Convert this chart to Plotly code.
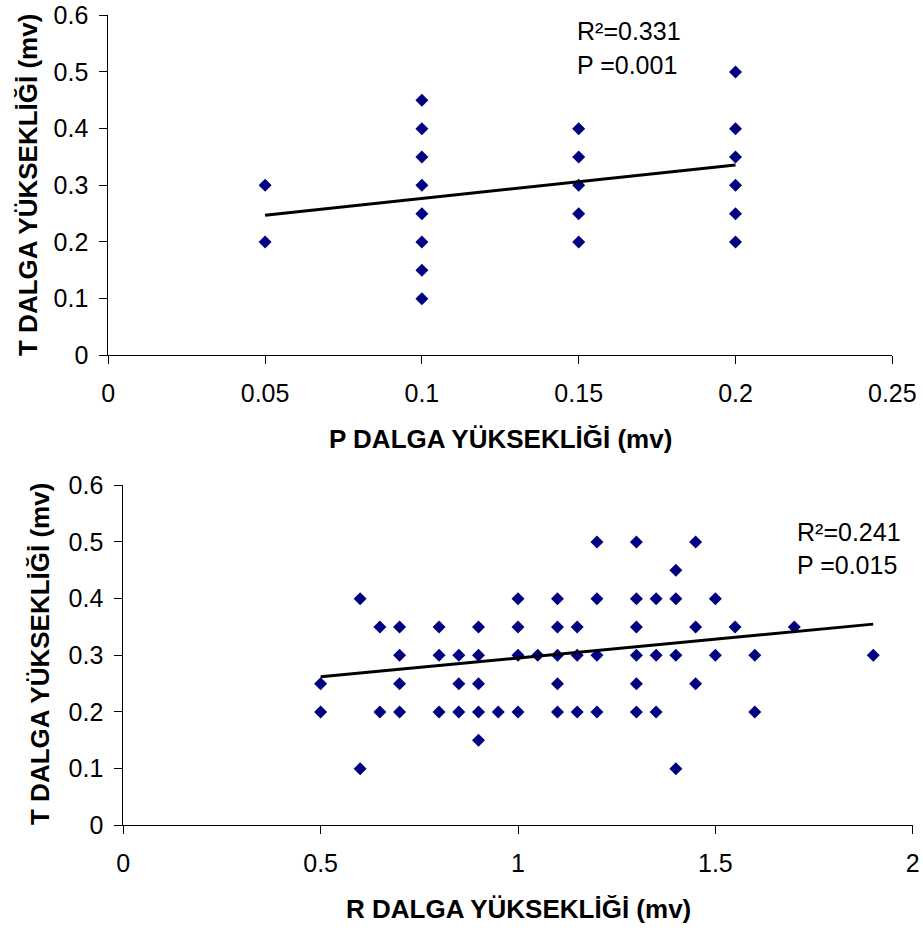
import plotly.graph_objects as go

W, H = 923, 931
FONT = "Liberation Sans, Arial, sans-serif"
NAVY = "#000080"

# --- P wave height vs T wave height ---
p_height = [0.05, 0.05,
            0.1, 0.1, 0.1, 0.1, 0.1, 0.1, 0.1, 0.1,
            0.15, 0.15, 0.15, 0.15, 0.15,
            0.2, 0.2, 0.2, 0.2, 0.2, 0.2]
t_height_p = [0.3, 0.2,
              0.45, 0.4, 0.35, 0.3, 0.25, 0.2, 0.15, 0.1,
              0.4, 0.35, 0.3, 0.25, 0.2,
              0.5, 0.4, 0.35, 0.3, 0.25, 0.2]
p_trend_x = [0.05, 0.2]
p_trend_y = [0.247, 0.336]
p_stats = ["R²=0.331", "P =0.001"]

# --- R wave height vs T wave height ---
r_height = [0.5, 0.5,
            0.6, 0.6,
            0.65, 0.65,
            0.7, 0.7, 0.7, 0.7,
            0.8, 0.8, 0.8,
            0.85, 0.85, 0.85,
            0.9, 0.9, 0.9, 0.9, 0.9,
            0.95,
            1.0, 1.0, 1.0, 1.0,
            1.05,
            1.1, 1.1, 1.1, 1.1, 1.1,
            1.15, 1.15, 1.15,
            1.2, 1.2, 1.2, 1.2,
            1.3, 1.3, 1.3, 1.3, 1.3, 1.3,
            1.35, 1.35, 1.35,
            1.4, 1.4, 1.4, 1.4,
            1.45, 1.45, 1.45,
            1.5, 1.5,
            1.55,
            1.6, 1.6,
            1.7,
            1.9]
t_height_r = [0.25, 0.2,
              0.4, 0.1,
              0.35, 0.2,
              0.35, 0.3, 0.25, 0.2,
              0.35, 0.3, 0.2,
              0.3, 0.25, 0.2,
              0.35, 0.3, 0.25, 0.2, 0.15,
              0.2,
              0.4, 0.35, 0.3, 0.2,
              0.3,
              0.4, 0.35, 0.3, 0.25, 0.2,
              0.35, 0.3, 0.2,
              0.5, 0.4, 0.3, 0.2,
              0.5, 0.4, 0.35, 0.3, 0.25, 0.2,
              0.4, 0.3, 0.2,
              0.45, 0.4, 0.3, 0.1,
              0.5, 0.35, 0.25,
              0.4, 0.3,
              0.35,
              0.3, 0.2,
              0.35,
              0.3]
r_trend_x = [0.5, 1.9]
r_trend_y = [0.262, 0.355]
r_stats = ["R²=0.241", "P =0.015"]

x_ticks_p = [0, 0.05, 0.1, 0.15, 0.2, 0.25]
x_ticks_r = [0, 0.5, 1, 1.5, 2]
y_ticks = [0, 0.1, 0.2, 0.3, 0.4, 0.5, 0.6]

x_title_p = "P DALGA YÜKSEKLİĞİ (mv)"
x_title_r = "R DALGA YÜKSEKLİĞİ (mv)"
y_title = "T DALGA YÜKSEKLİĞİ (mv)"

# plot-area placement in pixels: (left, right, top, bottom)
top_box = (108.3, 892.3, 15.3, 355.3)
bot_box = (123.3, 912.7, 485.3, 825.3)


def xdom(box):
    return [box[0] / W, box[1] / W]


def ydom(box):
    return [1 - box[3] / H, 1 - box[2] / H]


fig = go.Figure()

fig.add_trace(go.Scatter(x=p_height, y=t_height_p, mode="markers",
                         marker=dict(symbol="diamond", size=10, color=NAVY),
                         xaxis="x", yaxis="y", showlegend=False))
fig.add_trace(go.Scatter(x=p_trend_x, y=p_trend_y, mode="lines",
                         line=dict(color="black", width=3),
                         xaxis="x", yaxis="y", showlegend=False))
fig.add_trace(go.Scatter(x=r_height, y=t_height_r, mode="markers",
                         marker=dict(symbol="diamond", size=10, color=NAVY),
                         xaxis="x2", yaxis="y2", showlegend=False))
fig.add_trace(go.Scatter(x=r_trend_x, y=r_trend_y, mode="lines",
                         line=dict(color="black", width=3),
                         xaxis="x2", yaxis="y2", showlegend=False))

axis_common = dict(showgrid=False, zeroline=False, showline=True,
                   linecolor="black", linewidth=1, ticks="outside",
                   ticklen=8, tickcolor="black", tickwidth=1,
                   automargin=False,
                   tickfont=dict(family=FONT, size=25, color="black"))


def fmt(v):
    return ("%g" % v)


fig.update_layout(
    width=W, height=H,
    margin=dict(l=0, r=0, t=0, b=0),
    paper_bgcolor="white", plot_bgcolor="white",
    font=dict(family=FONT, color="black"),
    xaxis=dict(domain=xdom(top_box), range=[0, 0.25], anchor="y",
               tickvals=x_ticks_p, ticktext=[fmt(v) for v in x_ticks_p],
               ticklabelstandoff=8, **axis_common),
    yaxis=dict(domain=ydom(top_box), range=[0, 0.6], anchor="x",
               tickvals=y_ticks, ticktext=[fmt(v) for v in y_ticks],
               ticklabelstandoff=6, **axis_common),
    xaxis2=dict(domain=xdom(bot_box), range=[0, 2], anchor="y2",
                tickvals=x_ticks_r, ticktext=[fmt(v) for v in x_ticks_r],
                ticklabelstandoff=8, **axis_common),
    yaxis2=dict(domain=ydom(bot_box), range=[0, 0.6], anchor="x2",
                tickvals=y_ticks, ticktext=[fmt(v) for v in y_ticks],
                ticklabelstandoff=6, **axis_common),
)

ann = []
title_font = dict(family=FONT, size=26, color="black")
# axis titles
ann.append(dict(text="<b>%s</b>" % x_title_p, xref="paper", yref="paper",
                x=(top_box[0] + top_box[1]) / 2 / W, y=1 - 439 / H,
                xanchor="center", yanchor="middle", showarrow=False,
                font=title_font))
ann.append(dict(text="<b>%s</b>" % x_title_r, xref="paper", yref="paper",
                x=(bot_box[0] + bot_box[1]) / 2 / W, y=1 - 909 / H,
                xanchor="center", yanchor="middle", showarrow=False,
                font=title_font))
ann.append(dict(text="<b>%s</b>" % y_title, xref="paper", yref="paper",
                x=28 / W, y=1 - 185 / H, textangle=-90,
                xanchor="center", yanchor="middle", showarrow=False,
                font=title_font))
ann.append(dict(text="<b>%s</b>" % y_title, xref="paper", yref="paper",
                x=40 / W, y=1 - 654 / H, textangle=-90,
                xanchor="center", yanchor="middle", showarrow=False,
                font=title_font))

# regression statistics
stat_font = dict(family=FONT, size=25, color="black")
for txt, yy in zip(p_stats, [0.572, 0.512]):
    ann.append(dict(text=txt, xref="x", yref="y", x=0.1488, y=yy,
                    xanchor="left", yanchor="middle", showarrow=False,
                    font=stat_font))
for txt, yy in zip(r_stats, [0.518, 0.459]):
    ann.append(dict(text=txt, xref="x2", yref="y2", x=1.702, y=yy,
                    xanchor="left", yanchor="middle", showarrow=False,
                    font=stat_font))

fig.update_layout(annotations=ann)

fig.write_html("out.html")
